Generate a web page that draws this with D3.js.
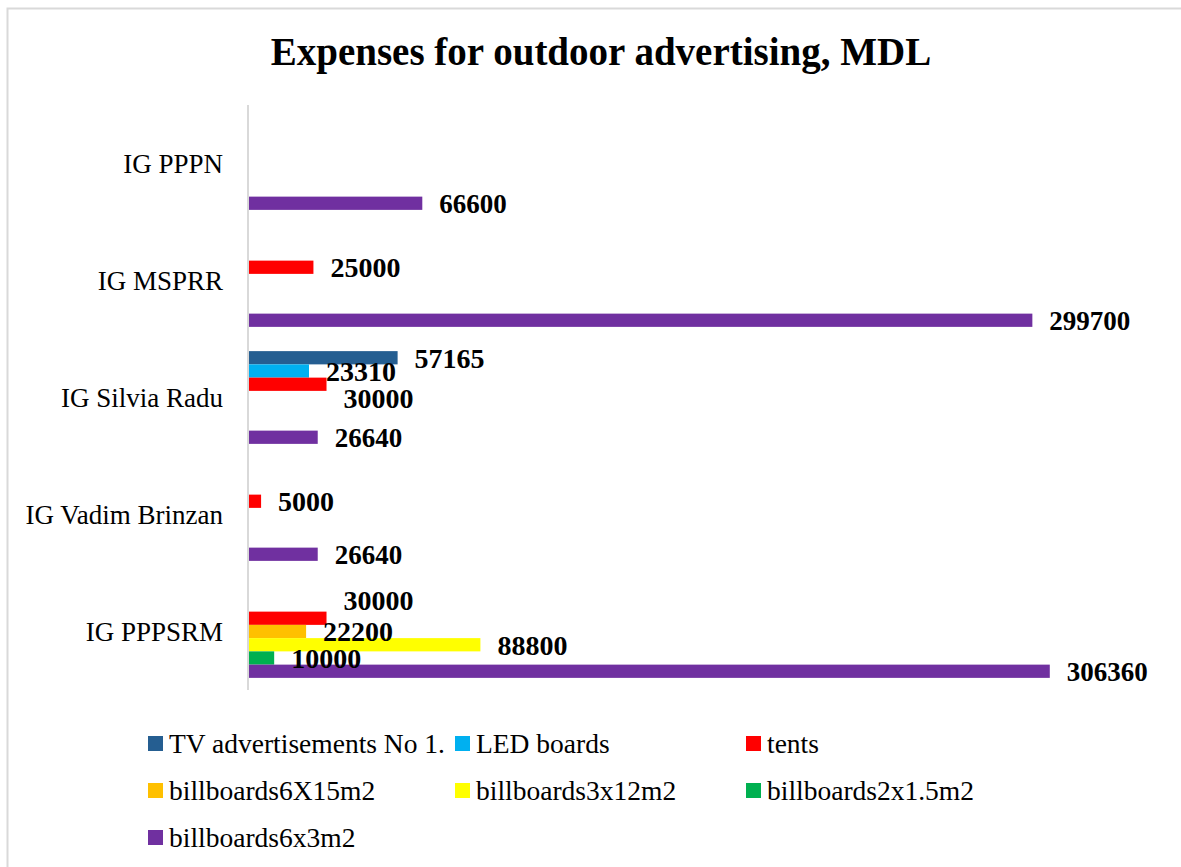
<!DOCTYPE html>
<html>
<head>
<meta charset="utf-8">
<script src="https://cdn.jsdelivr.net/npm/d3@7"></script>
<style>
  body { margin: 0; background: #fff; }
  text { font-family: "Liberation Serif", "DejaVu Serif", serif; }
</style>
</head>
<body>
<script>
// categories, top to bottom
const categories = ["IG PPPN", "IG MSPRR", "IG Silvia Radu", "IG Vadim Brinzan", "IG PPPSRM"];

// series names (legend order, also top-to-bottom order inside a group)
const seriesNames = ["TV advertisements No 1.", "LED boards", "tents",
    "billboards6X15m2", "billboards3x12m2", "billboards2x1.5m2", "billboards6x3m2"];

const seriesColors = ["#255E91", "#00B0F0", "#FF0000", "#FFC000", "#FFFF00", "#00B050", "#7030A0"];

// values per series, same order as categories (null = no bar)
const tvAds        = [null, null, 57165, null, null];
const ledBoards    = [null, null, 23310, null, null];
const tents        = [null, 25000, 30000, 5000, 30000];
const bb6x15       = [null, null, null, null, 22200];
const bb3x12       = [null, null, null, null, 88800];
const bb2x15       = [null, null, null, null, 10000];
const bb6x3        = [66600, 299700, 26640, 26640, 306360];

const seriesValues = [tvAds, ledBoards, tents, bb6x15, bb3x12, bb2x15, bb6x3];

const xMax = 350000;

// labels that were pushed aside to avoid overlaps (category|series -> dy px)
const labelNudge = { "IG Silvia Radu|tents": 14, "IG PPPSRM|tents": -18 };

const width = 1181, height = 867;

const svg = d3.select("body").append("svg")
    .attr("width", width).attr("height", height);

//chart border
svg.append("rect")
    .attr("x", 7.5).attr("y", 8.5)
    .attr("width", width + 20).attr("height", height + 20)
    .attr("fill", "#fff")
    .attr("stroke", "#d9d9d9")
    .attr("stroke-width", 2);

//title
svg.append("text")
    .attr("x", 601).attr("y", 65)
    .attr("text-anchor", "middle")
    .style("font-size", "39px")
    .style("font-weight", "bold")
    .text("Expenses for outdoor advertising, MDL");

let x = d3.scaleLinear().domain([0, xMax]).range([248, 1164]);

let y0 = d3.scaleBand().domain(categories).range([105, 690]);

let y1 = d3.scaleBand().domain(seriesNames)
    .range([0, y0.bandwidth()])
    .paddingOuter(0.915);

// flat list of bars
let bars = [];
for(let s = 0; s < seriesNames.length; s++) {
    for(let c = 0; c < categories.length; c++) {
        let v = seriesValues[s][c];
        if(v !== null) {
            bars.push({cat: categories[c], series: seriesNames[s], color: seriesColors[s], value: v, idx: s});
        }
    }
}

//bars
svg.selectAll("rect.bar")
    .data(bars).enter().append("rect")
    .attr("class", "bar")
    .attr("x", x(0))
    .attr("y", function(d){ return y0(d.cat) + y1(d.series); })
    .attr("width", function(d){ return x(d.value) - x(0); })
    .attr("height", y1.bandwidth())
    .attr("fill", function(d){ return d.color; });

//axis line
svg.append("line")
    .attr("x1", x(0)).attr("x2", x(0))
    .attr("y1", 105).attr("y2", 690)
    .attr("stroke", "#d9d9d9")
    .attr("stroke-width", 2);

//category labels
svg.selectAll("text.cat")
    .data(categories).enter().append("text")
    .attr("class", "cat")
    .attr("x", 223)
    .attr("y", function(d){ return y0(d) + y0.bandwidth() / 2; })
    .attr("dy", "0.35em")
    .attr("text-anchor", "end")
    .style("font-size", "27px")
    .text(function(d){ return d; });

//value labels (the billboards6x3m2 labels are a bit smaller)
svg.selectAll("text.val")
    .data(bars).enter().append("text")
    .attr("class", "val")
    .attr("x", function(d){ return x(d.value) + 17; })
    .attr("y", function(d){
        let dy = labelNudge[d.cat + "|" + d.series] || 0;
        return y0(d.cat) + y1(d.series) + y1.bandwidth() / 2 + dy;
    })
    .attr("dy", "0.35em")
    .style("font-size", function(d){ return d.idx === 6 ? "27px" : "28px"; })
    .style("font-weight", "bold")
    .text(function(d){ return d.value; });

//legend
const legendCols = [148, 455, 746];
const legendRows = [743, 790, 837];

let legend = svg.selectAll("g.legend")
    .data(seriesNames).enter().append("g")
    .attr("class", "legend")
    .attr("transform", function(d, i){
        return "translate(" + legendCols[i % 3] + "," + legendRows[Math.floor(i / 3)] + ")";
    });

legend.append("rect")
    .attr("x", 0).attr("y", -7)
    .attr("width", 15).attr("height", 15)
    .attr("fill", function(d, i){ return seriesColors[i]; });

legend.append("text")
    .attr("x", 21).attr("y", 0)
    .attr("dy", "0.35em")
    .style("font-size", "27.5px")
    .text(function(d){ return d; });
</script>
</body>
</html>
